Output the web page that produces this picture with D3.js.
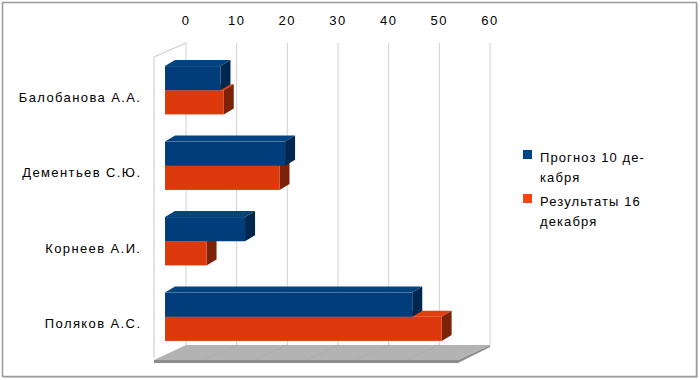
<!DOCTYPE html>
<html><head><meta charset="utf-8">
<script src="https://cdn.jsdelivr.net/npm/d3@7"></script>
<style>body{margin:0;background:#fff}svg{display:block}</style>
</head><body>
<svg id="c" width="700" height="380"></svg>
<script>
const categories = ["Балобанова А.А.", "Дементьев С.Ю.", "Корнеев А.И.", "Поляков А.С."];
const seriesNames = ["Прогноз 10 декабря", "Результаты 16 декабря"];
const forecast = [10.95, 23.7, 15.8, 48.8];
const results = [11.6, 22.6, 8.2, 54.6];
const ticks = [0, 10, 20, 30, 40, 50, 60];
const legendLines = [["Прогноз 10 де-", "кабря"], ["Результаты 16", "декабря"]];

const svg = d3.select("#c");
const font = "'Liberation Sans', Arial, sans-serif";

// outer frame
svg.append("rect").attr("x",2.5).attr("y",2.5).attr("width",694).attr("height",374)
  .attr("fill","#fff").attr("stroke","#9a9a9a").attr("stroke-width",1.5);
svg.append("path").attr("d","M697.5,4 V377.5 H4").attr("fill","none").attr("stroke","#c4c4c4").attr("stroke-width",1);

// scales: back wall and bar front plane
const xBack = d3.scaleLinear().domain([0,60]).range([186,490]);
const xFront = d3.scaleLinear().domain([0,60]).range([165,469]);
const yBand = d3.scaleBand().domain(categories).range([43,345]).paddingInner(0.36).paddingOuter(0.18);
const ySub = d3.scaleBand().domain([0,1]).range([0, yBand.bandwidth()]);
const wallTop = 43, wallBottom = 345;
const depth = {dx:-32, dy:15};
const frontOff = 9.5;
const bd = {dx:10, dy:-6};

// side wall
svg.append("path").attr("d",`M${xBack(0)},${wallTop} L${xBack(0)+depth.dx},${wallTop+14} V${wallBottom+depth.dy-2}`)
  .attr("fill","none").attr("stroke","#c8c8c8").attr("stroke-width",1);

// gridlines on back wall
svg.append("g").selectAll("line").data(ticks).join("line")
  .attr("x1",d=>xBack(d)).attr("x2",d=>xBack(d)).attr("y1",wallTop).attr("y2",wallBottom)
  .attr("stroke","#d0d0d0").attr("stroke-width",1);

// floor
const fx0 = xBack(0), fx1 = xBack(60), fy = wallBottom;
svg.append("path").attr("d",`M${fx0+depth.dx},${fy+depth.dy} H${fx1+depth.dx} L${fx1},${fy} V${fy+2} L${fx1+depth.dx},${fy+depth.dy+3} H${fx0+depth.dx} Z`)
  .attr("fill","#8c8c8c");
svg.append("path").attr("d",`M${fx0},${fy} H${fx1} L${fx1+depth.dx},${fy+depth.dy} H${fx0+depth.dx} Z`)
  .attr("fill","#b3b3b3");
svg.append("g").selectAll("line").data(ticks.slice(1,-1)).join("line")
  .attr("x1",d=>xBack(d)).attr("y1",fy).attr("x2",d=>xBack(d)+depth.dx).attr("y2",fy+depth.dy)
  .attr("stroke","#a9a9a9").attr("stroke-width",0.8);

// tick labels
svg.append("g").selectAll("text").data(ticks).join("text")
  .attr("x",d=>xBack(d)).attr("y",25).attr("text-anchor","middle")
  .attr("font-family",font).attr("font-size",13).attr("letter-spacing",1.5).attr("fill","#000").text(d=>d);

// bars
const colors = [
  {front:"#003d7a", top:"#04437f", side:"#00274f"},
  {front:"#dc390d", top:"#e13e12", side:"#7b2209"}
];
const seriesData = [forecast, results];
function drawBar(g, v, y0, h, c){
  const x0 = xFront(0), x1 = xFront(v);
  g.append("path").attr("d",`M${x0},${y0} L${x1},${y0} L${x1+bd.dx},${y0+bd.dy} L${x0+bd.dx},${y0+bd.dy} Z`).attr("fill",c.top);
  g.append("path").attr("d",`M${x1},${y0} L${x1+bd.dx},${y0+bd.dy} L${x1+bd.dx},${y0+h+bd.dy} L${x1},${y0+h} Z`).attr("fill",c.side);
  g.append("rect").attr("x",x0).attr("y",y0).attr("width",x1-x0).attr("height",h).attr("fill",c.front);
}
const barsG = svg.append("g");
categories.forEach((cat,i)=>{
  [1,0].forEach(s=>{
    const y0 = yBand(cat)+frontOff+ySub(s);
    drawBar(barsG, seriesData[s][i], y0, ySub.bandwidth(), colors[s]);
  });
});

// category labels
svg.append("g").selectAll("text").data(categories).join("text")
  .attr("x",141.4).attr("y",d=>yBand(d)+frontOff+yBand.bandwidth()/2+11.5)
  .attr("text-anchor","end").attr("font-family",font).attr("font-size",13).attr("letter-spacing",1.4).attr("fill","#000").text(d=>d);

// legend
const legendColors = ["#004586", "#ff420e"];
const lg = svg.append("g");
legendLines.forEach((lines,i)=>{
  const y = 150 + i*44;
  lg.append("rect").attr("x",523).attr("y",y).attr("width",9).attr("height",9).attr("fill",legendColors[i]);
  lines.forEach((t,j)=>{
    lg.append("text").attr("x",540).attr("y",y+12+j*19.5).attr("font-family",font).attr("font-size",13).attr("letter-spacing",1.1).attr("fill","#000").text(t);
  });
});
</script>
</body></html>
